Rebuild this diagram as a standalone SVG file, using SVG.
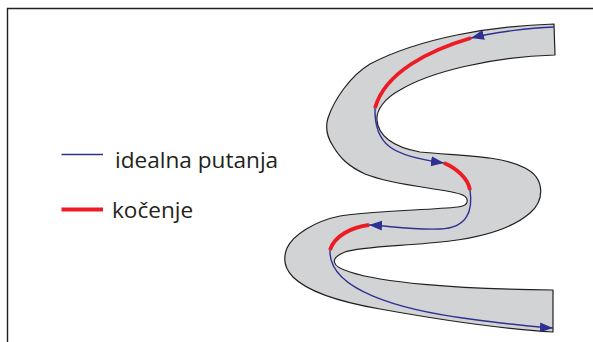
<svg xmlns="http://www.w3.org/2000/svg" width="593" height="342" viewBox="0 0 593 342">
  <style>
    .frame { fill: none; stroke: #231f20; stroke-width: 1.4; }
    .road { fill: #d1d3d4; stroke: #231f20; stroke-width: 1.2; stroke-linejoin: round; }
    .ideal { fill: none; stroke: #2e3192; stroke-width: 1.4; }
    .brake { fill: none; stroke: #ed1c24; stroke-width: 3.8; stroke-linecap: butt; }
    .label { font-family: "Open Sans", "Liberation Sans", sans-serif; font-size: 22.6px; fill: #231f20; }
  </style>
  <defs>
    <marker id="arrow" markerUnits="userSpaceOnUse" markerWidth="14" markerHeight="11" refX="13" refY="5" orient="auto">
      <path d="M0,0 L13,5 L0,10 z" fill="#2e3192"/>
    </marker>
  </defs>

  <!-- outer frame (top and left edges) -->
  <g id="frame">
    <path class="frame" d="M7.5,342 L7.5,8.5 L593,8.5"/>
  </g>

  <!-- winding road -->
  <g id="road">
    <path class="road" d="M554,24
      C 490,26 420,38 370,64
      C 350,76 334,100 328,118
      C 325,128 327,137 333,146
      C 340,158 348,166 365,174
      C 395,186 440,188 460,194
      C 470,197 470,206 458,207
      C 430,210 370,211 340,216
      C 315,221 293,235 287,248
      C 283,258 284,268 293,277
      C 308,292 340,302 380,309
      C 430,318 500,329 553,332
      L 553,290
      C 450,289 380,282 350,272
      C 330,266 330,258 345,252
      C 360,246 410,246 450,241
      C 490,236 515,226 530,213
      C 545,200 545,178 525,168
      C 500,155 460,156 420,152
      C 392,147 378,135 377,120
      C 376,110 385,98 400,90
      C 430,72 490,57 555,55 Z"/>
  </g>

  <!-- driving line: blue = ideal path, red = braking zones -->
  <g id="connectors">
    <path class="ideal" marker-end="url(#arrow)" d="M554,27 C 530,28 495,32 471,38"/>
    <path class="brake" d="M471,38 C 430,50 385,72 375,108"/>
    <path class="ideal" marker-end="url(#arrow)" d="M375,108 C 374,145 392,156 444,163"/>
    <path class="brake" d="M444,163 C 456,168 468,178 470,190"/>
    <path class="ideal" marker-end="url(#arrow)" d="M470,190 C 473,210 468,228 440,229 C 410,230 390,226 369,225"/>
    <path class="brake" d="M369,225 C 352,227 334,236 330,250"/>
    <path class="ideal" marker-end="url(#arrow)" d="M330,250 C 328,290 400,310 470,319 C 500,323 530,327 553,328"/>
  </g>

  <!-- legend -->
  <g id="legend-ideal">
    <line class="ideal" x1="61.5" y1="154.5" x2="103" y2="154.5"/>
    <text class="label" x="115" y="168">idealna putanja</text>
  </g>
  <g id="legend-brake">
    <line class="brake" x1="61.5" y1="209.5" x2="103" y2="209.5"/>
    <text class="label" x="112" y="218">kočenje</text>
  </g>
</svg>
